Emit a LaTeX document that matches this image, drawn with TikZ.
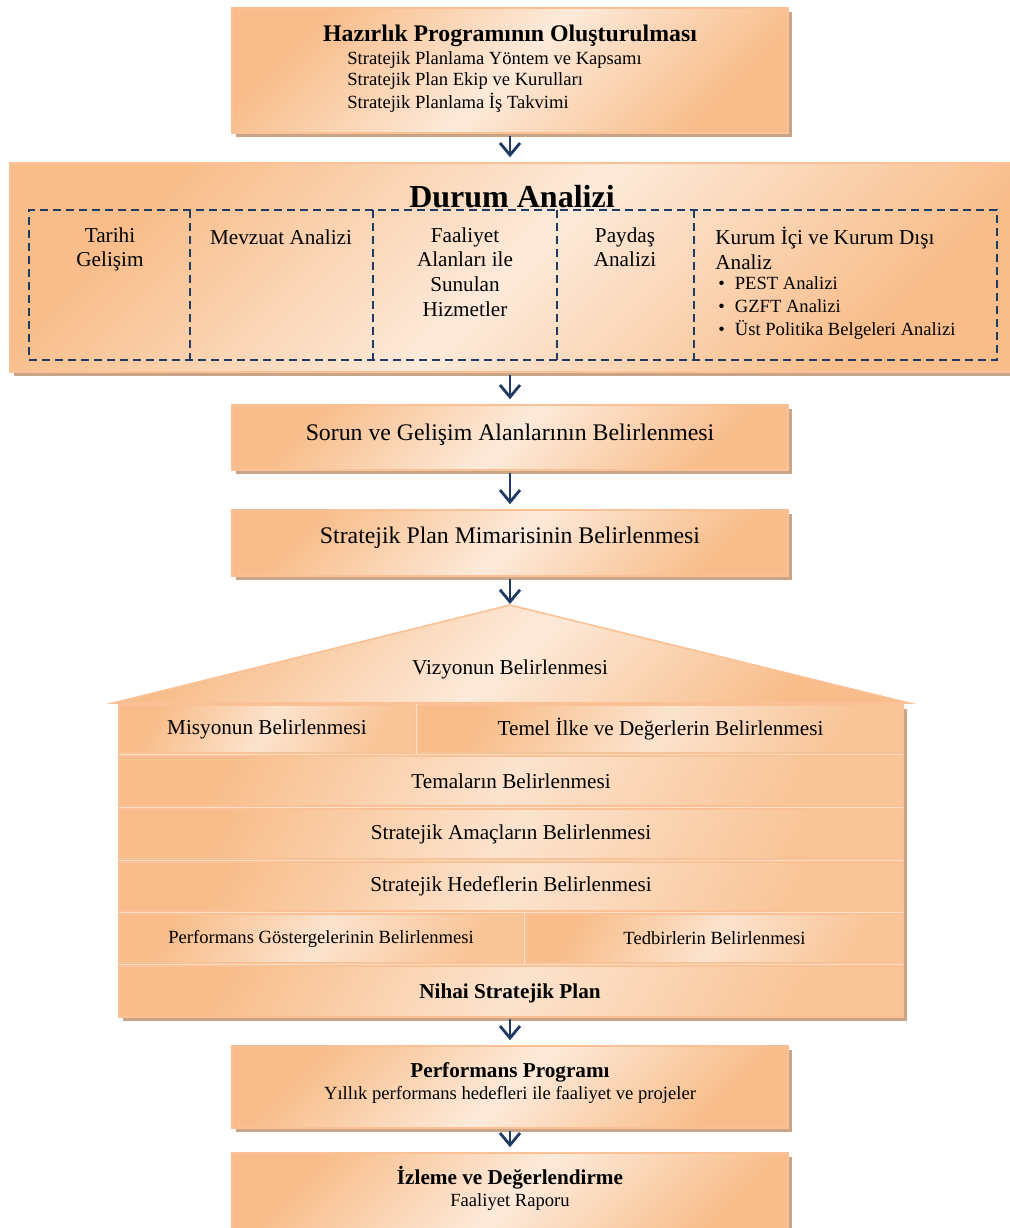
\documentclass[tikz,border=0pt]{standalone}
\usepackage{fontspec}
\setmainfont{Liberation Serif}
\usetikzlibrary{arrows.meta,shadows,fit}
\definecolor{boxdark}{HTML}{F8BD8A}
\definecolor{boxlight}{HTML}{FDEADA}
\definecolor{boxline}{HTML}{F9C195}
\definecolor{boxgap}{HTML}{FCE0C8}
\definecolor{boxshadow}{HTML}{C9A487}
\definecolor{navy}{HTML}{1F3A63}
\begin{document}
\begin{tikzpicture}[x=0.5pt,y=-0.5pt,
        box/.style={draw=boxline,line width=0.8pt,left color=boxdark,right color=boxdark,
            middle color=boxlight,shading angle=45,inner sep=0pt},
        rowbox/.style={draw=boxline,line width=0.8pt,left color=boxdark,right color=boxdark!85!boxlight,
            middle color=boxlight!85!boxdark,shading angle=60,inner sep=0pt},
        shbox/.style={box,drop shadow={fill=boxshadow,opacity=1,shadow xshift=2pt,
            shadow yshift=-2pt}},
        arr/.style={draw=navy,line width=1.4pt,shorten <=1pt,shorten >=2.5pt,
            -{Straight Barb[length=6pt,width=10pt]}},
        dashline/.style={draw=navy,line width=1pt,dash pattern=on 4pt off 2.5pt},
        txt/.style={font=\fontsize{10.6}{12.4}\selectfont,inner sep=0pt},
        smalltxt/.style={font=\fontsize{9.3}{11.5}\selectfont,inner sep=0pt},
        bigtxt/.style={font=\fontsize{11.9}{14}\selectfont,inner sep=0pt}]
\useasboundingbox (0,0) rectangle (1009,1228);

% Hazirlik
\node[shbox,fit={(232,8) (788,133)}] (hazirlik) {};
\node[bigtxt,font=\fontsize{11.9}{14}\selectfont\bfseries] (hazirlikT) at (510,36) {Hazırlık Programının Oluşturulması};
\node[smalltxt,anchor=west] (hp1) at (347,60) {Stratejik Planlama Yöntem ve Kapsamı};
\node[smalltxt,anchor=west] (hp2) at (347,81) {Stratejik Plan Ekip ve Kurulları};
\node[smalltxt,anchor=west] (hp3) at (347,103) {Stratejik Planlama İş Takvimi};

% Durum analizi
\node[shbox,fit={(10,163) (1015,372)}] (durum) {};
\node[font=\fontsize{16}{19}\selectfont\bfseries,inner sep=0pt] (durumT) at (512,197) {Durum Analizi};
\node[dashline,inner sep=0pt,fit={(29,210) (997,360)}] (durumic) {};
\foreach \xx in {190,373,557,694}
    \draw[dashline] (\xx,210) -- (\xx,360);
\node[txt,align=center,anchor=north] (tarihi) at (110,227) {Tarihi\\Gelişim};
\node[txt,align=center,anchor=north] (mevzuat) at (281,229) {Mevzuat Analizi};
\node[txt,align=center,anchor=north] (faaliyet) at (465,227) {Faaliyet\\Alanları ile\\Sunulan\\Hizmetler};
\node[txt,align=center,anchor=north] (paydas) at (625,227) {Paydaş\\Analizi};
\node[txt,align=left,anchor=north west] (kurum) at (715,227) {Kurum İçi ve Kurum Dışı\\Analiz};
\node[smalltxt,align=left,anchor=north west] (kurumlist) at (718,276)
    {\textbullet\hspace{5pt}PEST Analizi\\\textbullet\hspace{5pt}GZFT Analizi\\\textbullet\hspace{5pt}Üst Politika Belgeleri Analizi};

% Sorun ve mimari
\node[shbox,fit={(232,405) (788,470)}] (sorun) {};
\node[bigtxt] (sorunT) at (510,435) {Sorun ve Gelişim Alanlarının Belirlenmesi};
\node[shbox,fit={(232,510) (788,576)}] (mimari) {};
\node[bigtxt] (mimariT) at (510,538) {Stratejik Plan Mimarisinin Belirlenmesi};

% ev
\coordinate (apex) at (510,605);
\path[box] (apex) -- (909,703) -- (113,703) -- cycle;
\node[txt] (vizyon) at (510,669) {Vizyonun Belirlenmesi};
\node[draw=boxline,fill=boxgap,inner sep=0pt,drop shadow={fill=boxshadow,opacity=1,
    shadow xshift=2pt,shadow yshift=-2pt},fit={(119,705) (903,1017)}] (ev) {};
\node[rowbox,fit={(119,705) (415,753)}] (misyon) {};
\node[txt] (misyonT) at (misyon) {Misyonun Belirlenmesi};
\node[rowbox,fit={(418,705) (903,753)}] (temel) {};
\node[txt] (temelT) at (temel) {Temel İlke ve Değerlerin Belirlenmesi};
\foreach \nm/\ya/\yb/\tx in {tema/756/806/Temaların Belirlenmesi,
        amac/809/859/Stratejik Amaçların Belirlenmesi,
        hedef/862/911/Stratejik Hedeflerin Belirlenmesi}{
    \node[rowbox,fit={(119,\ya) (903,\yb)}] (\nm) {};
    \node[txt] (\nm-t) at (\nm) {\tx};
}
\node[rowbox,fit={(119,914) (523,963)}] (gosterge) {};
\node[smalltxt] (gostergeT) at (gosterge) {Performans Göstergelerinin Belirlenmesi};
\node[rowbox,fit={(526,914) (903,963)}] (tedbir) {};
\node[smalltxt] (tedbirT) at (tedbir) {Tedbirlerin Belirlenmesi};
\node[rowbox,fit={(119,966) (903,1017)}] (nihai) {};
\node[txt,font=\fontsize{10.6}{12.4}\selectfont\bfseries] (nihaiT) at (510,993) {Nihai Stratejik Plan};

% performans ve izleme
\node[shbox,fit={(232,1046) (788,1128)}] (perf) {};
\node[txt,font=\fontsize{10.6}{12.4}\selectfont\bfseries] (perfT) at (510,1072) {Performans Programı};
\node[smalltxt] (perfS) at (510,1095) {Yıllık performans hedefleri ile faaliyet ve projeler};
\node[shbox,fit={(232,1153) (788,1245)}] (izleme) {};
\node[txt,font=\fontsize{10.6}{12.4}\selectfont\bfseries] (izlemeT) at (510,1178) {İzleme ve Değerlendirme};
\node[smalltxt] (izlemeS) at (510,1202) {Faaliyet Raporu};

% oklar
\draw[arr] (hazirlik.south) -- (hazirlik.south |- durum.north);
\draw[arr] (sorun.north |- durum.south) -- (sorun.north);
\draw[arr] (sorun.south) -- (mimari.north);
\draw[arr,shorten >=0.5pt] (mimari.south) -- (apex);
\draw[arr] (perf.north |- ev.south) -- (perf.north);
\draw[arr] (perf.south) -- (izleme.north);

\end{tikzpicture}
\end{document}
